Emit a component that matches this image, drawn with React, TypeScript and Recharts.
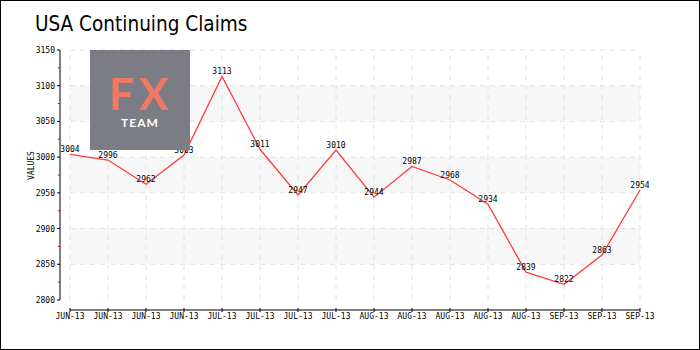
import React from "react"
import {
  LineChart,
  Line,
  XAxis,
  YAxis,
  ReferenceArea,
  ReferenceLine,
  LabelList,
  Label,
} from "recharts"

// weekly continuing claims (thousands)
const categories = [
  "JUN-13", "JUN-13", "JUN-13", "JUN-13",
  "JUL-13", "JUL-13", "JUL-13", "JUL-13",
  "AUG-13", "AUG-13", "AUG-13", "AUG-13", "AUG-13",
  "SEP-13", "SEP-13", "SEP-13",
]
const claims = [3004, 2996, 2962, 3003, 3113, 3011, 2947, 3010, 2944, 2987, 2968, 2934, 2839, 2822, 2863, 2954]

const yTicks = [2800, 2825, 2850, 2875, 2900, 2925, 2950, 2975, 3000, 3025, 3050, 3075, 3100, 3125, 3150]
const majorTicks = [2800, 2850, 2900, 2950, 3000, 3050, 3100, 3150]
const bands = [
  [2850, 2900],
  [2950, 3000],
  [3050, 3100],
]

const data = categories.map((c, i) => ({ idx: i, name: c, value: claims[i] }))
const xIdx = categories.map((_, i) => i)

const pixelFont = "'DejaVu Sans Mono', monospace"

const YTick = (props: any) => {
  const { x, y, payload } = props
  const major = majorTicks.includes(payload.value)
  if (!major) {
    return <line x1={x - 2} x2={x} y1={y} y2={y} stroke="#e00000" strokeWidth={1} />
  }
  return (
    <g>
      <line x1={x - 3} x2={x} y1={y} y2={y} stroke="#000" strokeWidth={1} />
      <text x={x - 5} y={y + 3} textAnchor="end" fontSize={8} fontFamily={pixelFont} fill="#000">
        {payload.value}
      </text>
    </g>
  )
}

const XTick = (props: any) => {
  const { x, y, payload } = props
  return (
    <g>
      <line x1={x} x2={x} y1={y - 2} y2={y + 2} stroke="#000" strokeWidth={1} />
      <text x={x} y={y + 9} textAnchor="middle" fontSize={8} fontFamily={pixelFont} fill="#000">
        {categories[payload.value]}
      </text>
    </g>
  )
}

export default function App() {
  return (
    <div style={{ position: "absolute", left: 0, top: 0, width: 700, height: 350, background: "#fff" }}>
      <div
        style={{
          position: "absolute",
          left: 35,
          top: 11,
          fontFamily: "'DejaVu Sans', sans-serif",
          fontSize: 22,
          fontWeight: 400,
          color: "#000",
          whiteSpace: "nowrap",
          transform: "scaleX(0.84)",
          transformOrigin: "left top",
        }}
      >
        USA Continuing Claims
      </div>

      <div style={{ position: "absolute", left: 0, top: 0 }}>
        <LineChart width={700} height={350} data={data} margin={{ top: 50, right: 60, bottom: 20, left: 0 }}>
          {bands.map(([lo, hi]) => (
            <ReferenceArea
              key={lo}
              x1={0}
              x2={15}
              y1={lo}
              y2={hi}
              fill="#f7f7f7"
              fillOpacity={1}
              stroke="none"
              ifOverflow="visible"
            />
          ))}
          {majorTicks.slice(1).map((v) => (
            <ReferenceLine
              key={"h" + v}
              segment={[
                { x: 0, y: v },
                { x: 15, y: v },
              ]}
              stroke="#e2e2e2"
              strokeDasharray="5 5"
              ifOverflow="visible"
            />
          ))}
          {xIdx.map((i) => (
            <ReferenceLine
              key={"v" + i}
              segment={[
                { x: i, y: 2800 },
                { x: i, y: 3150 },
              ]}
              stroke="#e2e2e2"
              strokeDasharray="5 5"
              ifOverflow="visible"
            />
          ))}
          <XAxis
            dataKey="idx"
            type="number"
            domain={[0, 15]}
            ticks={xIdx}
            interval={0}
            padding={{ left: 10, right: 0 }}
            height={20}
            tickSize={0}
            tickMargin={0}
            tickLine={false}
            axisLine={{ stroke: "#000", strokeDasharray: "0 10 580" }}
            tick={<XTick />}
          />
          <YAxis
            type="number"
            domain={[2800, 3150]}
            ticks={yTicks}
            interval={0}
            width={60}
            padding={{ top: 0, bottom: 10 }}
            tickSize={0}
            tickMargin={0}
            tickLine={false}
            axisLine={{ stroke: "#000", strokeDasharray: "250 20" }}
            tick={<YTick />}
          >
            <Label
              value="VALUES"
              angle={-90}
              position="insideLeft"
              offset={31}
              style={{ fontSize: 8, fontFamily: pixelFont, fill: "#000" }}
            />
          </YAxis>
          <Line
            type="linear"
            dataKey="value"
            stroke="#ff3b3b"
            strokeWidth={1.3}
            dot={false}
            isAnimationActive={false}
          >
            <LabelList
              dataKey="value"
              position="top"
              offset={2}
              style={{ fontSize: 8, fontFamily: pixelFont, fill: "#000" }}
            />
          </Line>
        </LineChart>
      </div>

      {/* FX TEAM badge */}
      <svg
        width={100}
        height={100}
        style={{ position: "absolute", left: 90, top: 50 }}
      >
        <rect x={0} y={0} width={100} height={100} fill="#7c7c84" />
        <text
          x={51}
          y={60}
          textAnchor="middle"
          fontFamily="Lato, 'Open Sans', sans-serif"
          fontWeight={700}
          fontSize={44}
          letterSpacing={5}
          fill="#ef7965"
        >
          FX
        </text>
        <text
          x={50}
          y={77}
          textAnchor="middle"
          fontFamily="Lato, 'Open Sans', sans-serif"
          fontWeight={700}
          fontSize={12}
          letterSpacing={1}
          fill="#fff"
        >
          TEAM
        </text>
      </svg>

      <div
        style={{
          position: "absolute",
          left: 0,
          top: 0,
          width: 700,
          height: 350,
          border: "1px solid #000",
          boxSizing: "border-box",
          pointerEvents: "none",
        }}
      />
    </div>
  )
}
